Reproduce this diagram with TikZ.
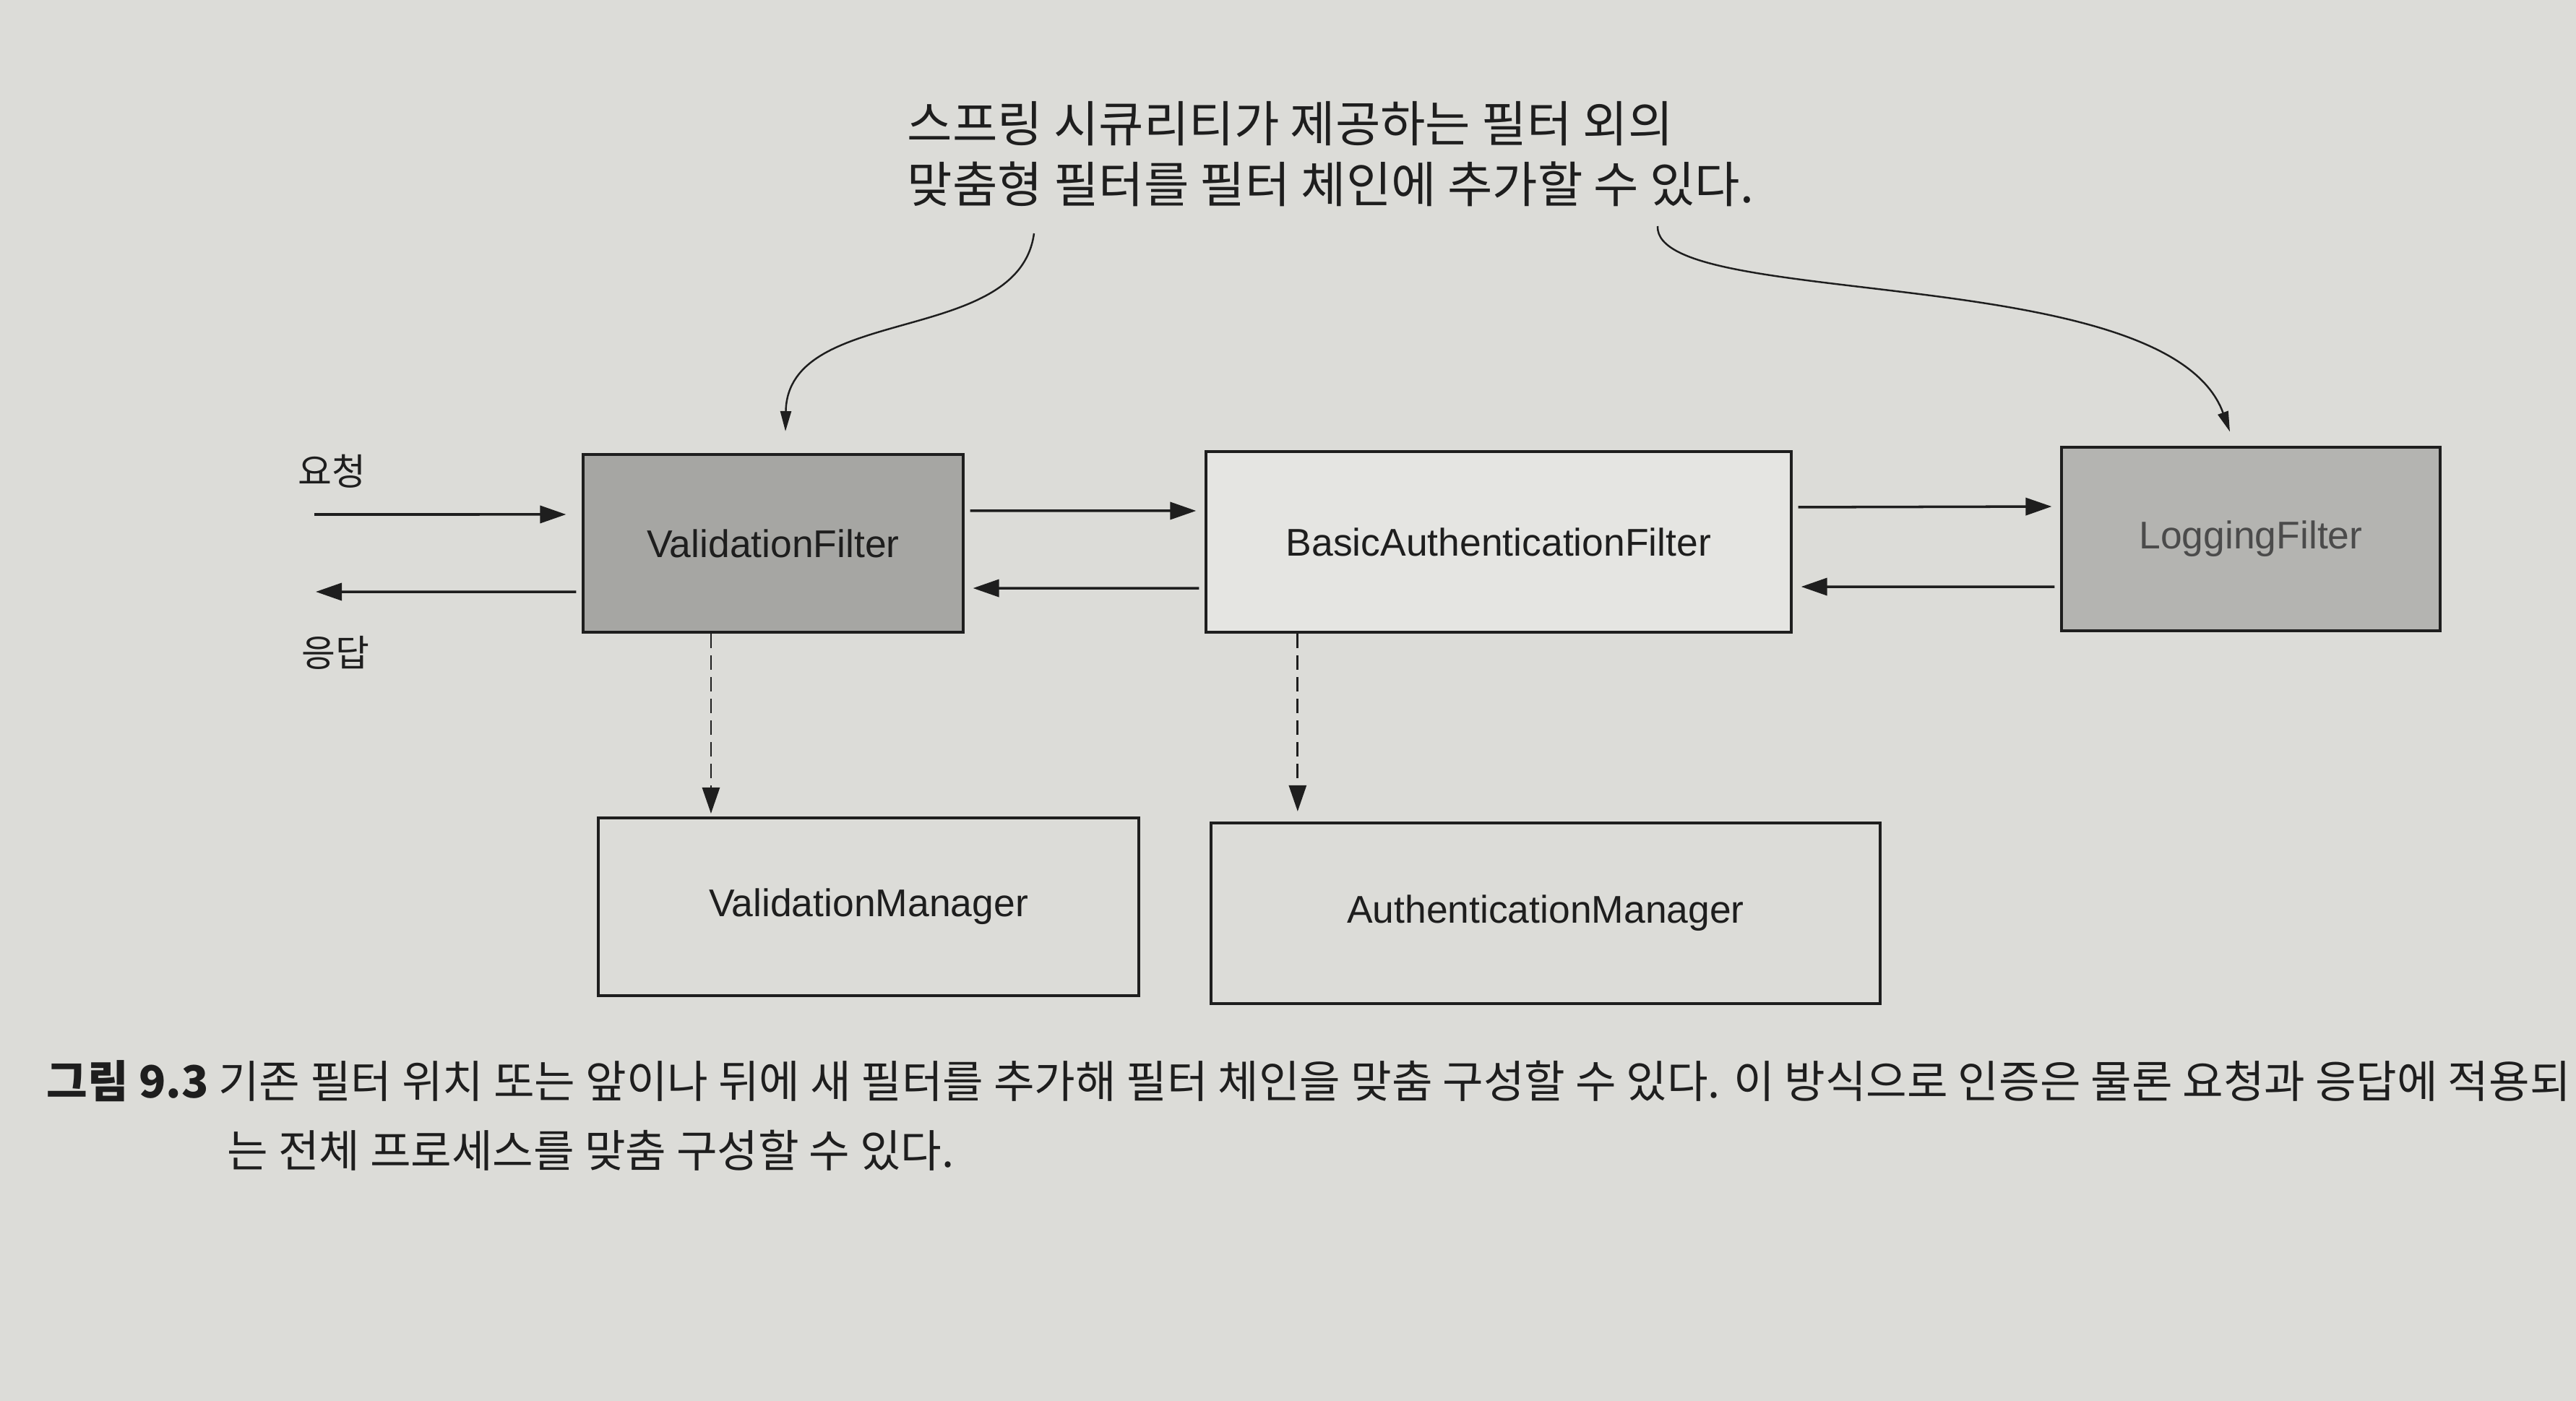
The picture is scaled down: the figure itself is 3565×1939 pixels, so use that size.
\documentclass[tikz,border=0pt]{standalone}
\usepackage{fontspec}
\setmainfont{Liberation Sans}
\newfontfamily\kr{Noto Sans CJK KR}
\usetikzlibrary{arrows.meta}
\definecolor{paper}{RGB}{220,220,216}
\definecolor{filtergray}{RGB}{166,166,163}
\definecolor{loggray}{RGB}{180,180,177}
\definecolor{ink}{RGB}{30,30,30}

\tikzset{
  box/.style={draw=ink, line width=1.1pt, inner sep=0pt, text=ink,
    font=\fontsize{15.2}{18}\selectfont},
  flow/.style={ink, line width=1pt, ->, shorten <=0.08cm, shorten >=0.12cm},
  uses/.style={ink, line width=0.8pt, ->, dash pattern=on 0.2cm off 0.1cm},
  note/.style={ink, line width=0.7pt, -{Triangle[length=0.28cm, width=0.15cm]}},
  lbl/.style={text=ink, inner sep=0pt}
}

\begin{document}
\begin{tikzpicture}[x=0.01cm, y=-0.01cm, >={Triangle[length=0.36cm, width=0.24cm]}]
      \fill[paper] (0,0) rectangle (3565,1939);
      \useasboundingbox (0,0) rectangle (3565,1939);
      % Note
      \node[lbl, anchor=west, align=left, font=\kr\fontsize{19.3}{24}\selectfont] (note) at (1255,213)
        {스프링 시큐리티가 제공하는 필터 외의\\맞춤형 필터를 필터 체인에 추가할 수 있다.};
      \coordinate (noteL) at (1431,323);
      \coordinate (noteR) at (2294,313);
      % Filter chain
      \node[box, fill=filtergray, minimum width=5.25cm, minimum height=2.46cm] (VF) at (1070,752) {ValidationFilter};
      \node[box, fill=white!25!paper, minimum width=8.09cm, minimum height=2.5cm] (BAF) at (2074,750) {BasicAuthenticationFilter};
      \node[box, fill=loggray, minimum width=5.23cm, minimum height=2.53cm, text=ink!80] (LF) at (3115,746) {LoggingFilter};
      % Managers
      \node[box, minimum width=7.48cm, minimum height=2.46cm] (VM) at (1202,1255) {ValidationManager};
      \node[box, minimum width=9.25cm, minimum height=2.5cm] (AM) at (2139,1264) {AuthenticationManager};
      % Request / response
      \node[lbl, font=\kr\fontsize{14.5}{17}\selectfont] (req) at (459,652) {요청};
      \node[lbl, font=\kr\fontsize{14.5}{17}\selectfont] (res) at (464,903) {응답};
      \coordinate (reqin) at (427,712);
      \coordinate (resout) at (437,819);
      \draw[flow, shorten >=0.22cm] (reqin) -- ([yshift=0.4cm]VF.west);
      \draw[flow, shorten >=0cm] ([yshift=-0.67cm]VF.west) -- (resout);
      \draw[flow] ([yshift=0.45cm]VF.east) -- ([yshift=0.43cm]BAF.west);
      \draw[flow] ([yshift=-0.64cm]BAF.west) -- ([yshift=-0.62cm]VF.east);
      \draw[flow] ([yshift=0.48cm]BAF.east) -- ([yshift=0.45cm]LF.west);
      \draw[flow] ([yshift=-0.66cm]LF.west) -- ([yshift=-0.62cm]BAF.east);
      % Uses
      \draw[uses, shorten >=0.04cm] ([xshift=-0.86cm]VF.south) -- ([xshift=-0.86cm]VF.south |- VM.north);
      \draw[uses, shorten >=0.14cm] ([xshift=-2.78cm]BAF.south) -- ([xshift=-2.78cm]BAF.south |- AM.north);
      % Custom filters
      \draw[note] (noteL) .. controls (1410,480) and (1090,420) .. ([xshift=0.17cm, yshift=0.3cm]VF.north);
      \draw[note] (noteR) .. controls (2290,430) and (3000,360) .. ([xshift=-0.29cm, yshift=0.2cm]LF.north);
      % Caption
      \node[lbl, anchor=west, font=\kr\fontsize{17.5}{20}\selectfont] (cap1) at (64,1496)
        {{\bfseries 그림 9.3} 기존 필터 위치 또는 앞이나 뒤에 새 필터를 추가해 필터 체인을 맞춤 구성할 수 있다. 이 방식으로 인증은 물론 요청과 응답에 적용되};
      \node[lbl, anchor=west, font=\kr\fontsize{17.5}{20}\selectfont] (cap2) at (314,1592)
        {는 전체 프로세스를 맞춤 구성할 수 있다.};
\end{tikzpicture}
\end{document}
